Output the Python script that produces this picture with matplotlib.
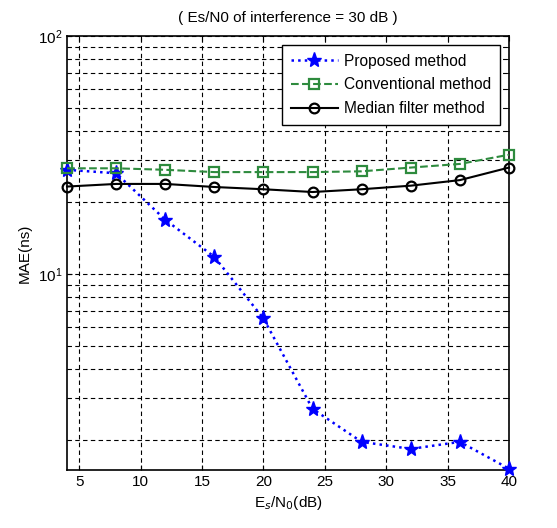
import matplotlib
matplotlib.use("Agg")
import matplotlib.pyplot as plt
from matplotlib.ticker import LogLocator, NullFormatter, FixedLocator

plt.rcParams['font.family'] = ['Liberation Sans', 'DejaVu Sans']

esn0 = [4, 8, 12, 16, 20, 24, 28, 32, 36, 40]
proposed = [27.4, 26.5, 16.9, 11.8, 6.5, 2.71, 1.97, 1.84, 1.97, 1.52]
conventional = [27.8, 27.8, 27.4, 26.8, 26.8, 26.8, 27.0, 28.0, 29.0, 31.7]
median = [23.3, 23.9, 23.9, 23.2, 22.7, 22.1, 22.7, 23.5, 24.8, 28.0]
xticks = [5, 10, 15, 20, 25, 30, 35, 40]

fig = plt.figure(figsize=(5.57, 5.28), dpi=100)
ax = fig.add_axes([0.1203, 0.1098, 0.7935, 0.822])

ax.semilogy(esn0, proposed, ':', color='#0000FF', marker='*', markersize=11,
            markerfacecolor='#0000FF', linewidth=1.8, label='Proposed method', clip_on=False, zorder=3)
ax.semilogy(esn0, conventional, '--', color='#2E8B3E', marker='s', markersize=7,
            markerfacecolor='none', markeredgewidth=1.6, linewidth=1.5, label='Conventional method',
            clip_on=False, zorder=3)
ax.semilogy(esn0, median, '-', color='black', marker='o', markersize=7,
            markerfacecolor='none', markeredgewidth=1.6, linewidth=1.5, label='Median filter method',
            clip_on=False, zorder=3)

ax.set_xlim(4, 40)
ax.set_ylim(1.5, 100)
ax.xaxis.set_major_locator(FixedLocator(xticks))
ax.yaxis.set_major_locator(LogLocator(base=10))
ax.yaxis.set_minor_locator(LogLocator(base=10, subs=range(2, 10)))
ax.yaxis.set_minor_formatter(NullFormatter())

ax.grid(True, which='major', linestyle=(0, (4, 3)), color='black', linewidth=0.8)
ax.grid(True, which='minor', axis='y', linestyle=(0, (4, 3)), color='black', linewidth=0.8)

ax.tick_params(which='both', direction='in', top=True, right=True, labelsize=11)
for s in ax.spines.values():
    s.set_linewidth(1.2)

ax.set_title('( Es/N0 of interference = 30 dB )', fontsize=11, pad=10)
ax.set_xlabel('E$_s$/N$_0$(dB)', fontsize=11)
ax.set_ylabel('MAE(ns)', fontsize=11)

leg = ax.legend(loc='upper right', fontsize=11.2, fancybox=False, framealpha=1,
                edgecolor='black', handlelength=3.0, handletextpad=0.4,
                labelspacing=0.55, borderaxespad=0.55, borderpad=0.6)
leg.get_frame().set_linewidth(1.0)

fig.savefig('out.png', dpi=100)
